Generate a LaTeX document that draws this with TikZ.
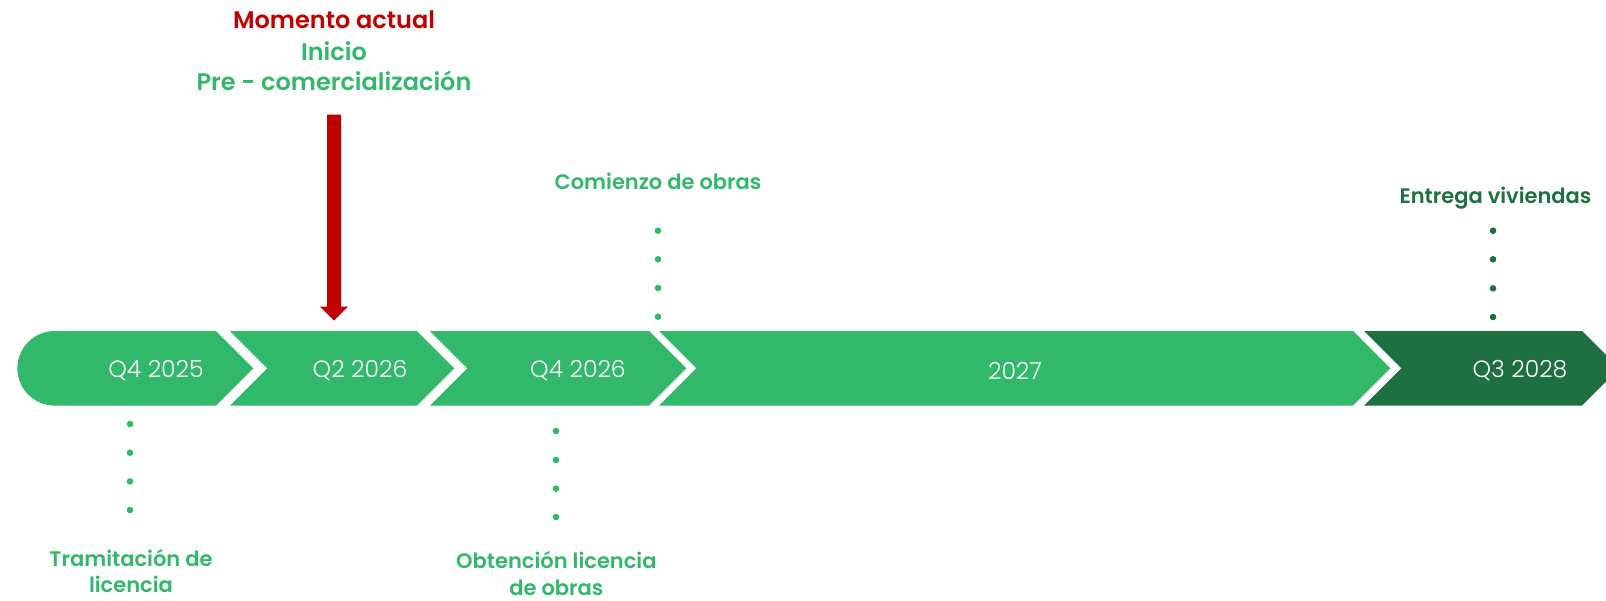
\documentclass[tikz,border=0pt]{standalone}
\usepackage{fontspec}
\setmainfont{Poppins}[BoldFont={Poppins SemiBold}]
\newfontfamily\lightfont{Poppins Light}
\definecolor{tlgreen}{RGB}{50,184,107}
\definecolor{tldark}{RGB}{30,112,64}
\definecolor{tlred}{RGB}{192,0,0}
\begin{document}
\begin{tikzpicture}[x=1pt,y=-1pt,
  seg/.style={fill=tlgreen,draw=none},
  segdark/.style={fill=tldark,draw=none},
  seglabel/.style={text=white,font=\lightfont\fontsize{23.5}{28}\selectfont,inner sep=0pt},
  toptext/.style={font=\bfseries\fontsize{24}{28}\selectfont,inner sep=0pt,anchor=base},
  milestone/.style={font=\bfseries\fontsize{21}{26.5}\selectfont,inner sep=0pt,anchor=base,text=tlgreen,align=center},
  dot/.style={circle,fill=tlgreen,minimum size=6.6pt,inner sep=0pt},
  dotdark/.style={circle,fill=tldark,minimum size=6.6pt,inner sep=0pt}]
\useasboundingbox (0,0) rectangle (1606,600);
% timeline segments
\path[seg] (54.7,405.6) arc[start angle=90,end angle=270,radius=37.3] -- (216,331) -- (253.3,368.3) -- (216,405.6) -- cycle;
\path[seg] (230,331) -- (417,331) -- (454.3,368.3) -- (417,405.6) -- (230,405.6) -- (267.3,368.3) -- cycle;
\path[seg] (430,331) -- (649,331) -- (686.3,368.3) -- (649,405.6) -- (430,405.6) -- (467.3,368.3) -- cycle;
\path[seg] (659,331) -- (1353,331) -- (1390.3,368.3) -- (1353,405.6) -- (659,405.6) -- (696.3,368.3) -- cycle;
\path[segdark] (1364,331) -- (1582,331) -- (1619.3,368.3) -- (1582,405.6) -- (1364,405.6) -- (1401.3,368.3) -- cycle;
\node[seglabel] (s1) at (156,371) {Q4 2025};
\node[seglabel] (s2) at (360,371) {Q2 2026};
\node[seglabel] (s3) at (578,371) {Q4 2026};
\node[seglabel] (s4) at (1015,371) {2027};
\node[seglabel] (s5) at (1520,371) {Q3 2028};
% top text and arrow
\node[toptext,text=tlred] (m1) at (334,28) {Momento actual};
\node[toptext,text=tlgreen] (m2) at (334,60) {Inicio};
\node[toptext,text=tlgreen] (m3) at (334,90.7) {Pre - comercialización};
\coordinate (arrtip) at (334,320.7);
\fill[tlred] (327,114.5) -- (341,114.5) -- (341,306.7) -- (348,306.7) -- (arrtip) -- (320,306.7) -- (327,306.7) -- cycle;
% milestones
\node[milestone] (c1) at (658,189) {Comienzo de obras};
\foreach \y [count=\i] in {230.7,259.3,288,316.7} \node[dot] (cd\i) at (658,\y) {};
\node[milestone,text=tldark] (e1) at (1495.5,203.3) {Entrega viviendas};
\foreach \y [count=\i] in {230.7,259.3,288.3,317} \node[dotdark] (ed\i) at (1493,\y) {};
\foreach \y [count=\i] in {424,452.7,481.4,510} \node[dot] (td\i) at (130,\y) {};
\node[milestone] (t1) at (131,592.7) {Tramitación de\\licencia};
\foreach \y [count=\i] in {431,460,488.6,517} \node[dot] (od\i) at (556,\y) {};
\node[milestone] (o1) at (556.4,595.3) {Obtención licencia\\de obras};
\end{tikzpicture}
\end{document}
